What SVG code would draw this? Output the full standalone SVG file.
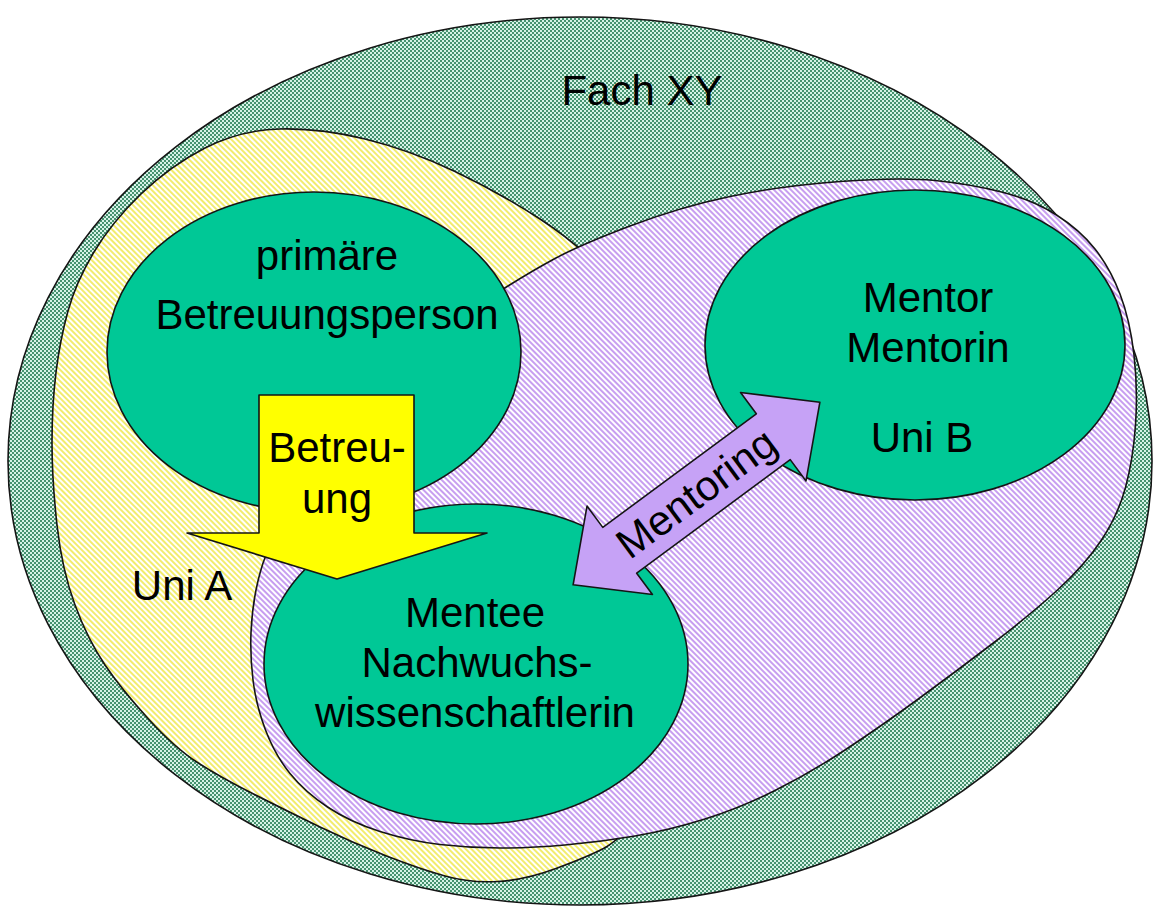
<svg xmlns="http://www.w3.org/2000/svg" width="1155" height="913" viewBox="0 0 1155 913">
<defs>
<pattern id="checker" width="4" height="4" patternUnits="userSpaceOnUse">
<rect width="4" height="4" fill="#d6f3e7"/>
<rect width="2" height="2" fill="#46926f"/>
<rect x="2" y="2" width="2" height="2" fill="#46926f"/>
</pattern>
<pattern id="lilac" width="4" height="4" patternUnits="userSpaceOnUse" patternTransform="rotate(-45)">
<rect width="4" height="4" fill="#ffffff"/>
<rect width="2" height="4" fill="#c79ef0"/>
</pattern>
<pattern id="straw" width="4" height="4" patternUnits="userSpaceOnUse" patternTransform="rotate(-45)">
<rect width="4" height="4" fill="#ffffff"/>
<rect width="2" height="4" fill="#f2ec6e"/>
</pattern>
</defs>
<style>
.ln{stroke:#151515;stroke-width:1.6;stroke-linejoin:round}
.node{fill:#00c896}
.t{font-family:"Liberation Sans",Arial,sans-serif;font-size:42px;fill:#000;text-anchor:middle}
</style>
<rect width="1155" height="913" fill="#ffffff"/>

<g id="fach">
<ellipse class="ln" cx="580" cy="461" rx="572" ry="444" fill="url(#checker)"/>
<text class="t" x="642" y="105">Fach XY</text>
</g>

<g id="uniA">
<path class="ln" fill="url(#straw)" d="M685,645 Q690,520 670,420 Q650,320 615,282.5 Q580,245 540,219 Q500,193 455,171.5 Q410,150 365,139 Q320,128 280,129 Q240,130 205,148 Q170,166 141,194 Q112,222 94,252 Q76,282 68,311 Q60,340 56,372.5 Q52,405 52,442.5 Q52,480 57,525 Q62,570 75,605 Q88,640 105,665 Q122,690 148.5,719 Q175,748 197.5,762.5 Q220,777 253.5,794 Q287,811 320,827 Q353,843 386.5,856 Q420,869 445,876 Q470,883 497.5,881.5 Q525,880 556,868.5 Q587,857 603.5,848.5 Q620,840 650,805 Q680,770 685,645 Z"/>
<text class="t" x="182" y="600">Uni A</text>
</g>

<g id="uniB">
<path class="ln" fill="url(#lilac)" d="M281,525 Q290,510 345,440 Q400,370 435,340 Q470,310 500,291 Q530,272 555,258.5 Q580,245 630,226 Q680,207 730,196.5 Q780,186 840,181.5 Q900,177 935,180.5 Q970,184 1001.5,192 Q1033,200 1056.5,215 Q1080,230 1095,249 Q1110,268 1120,294 Q1130,320 1134,355 Q1138,390 1135.5,425 Q1133,460 1125.5,487.5 Q1118,515 1101.5,540 Q1085,565 1057.5,590 Q1030,615 994,642.5 Q958,670 919,698.5 Q880,727 845,750 Q810,773 775,790.5 Q740,808 705,819 Q670,830 635,836 Q600,842 565,845 Q530,848 500,848 Q470,848 440,844.5 Q410,841 380,831.5 Q350,822 327.5,807 Q305,792 290,773.5 Q275,755 265.5,730 Q256,705 253,680 Q250,655 251,632.5 Q252,610 256,590 Q260,570 266,555 Q272,540 281,525 Z"/>
</g>

<g id="betreuungsperson">
<ellipse class="ln node" cx="314" cy="352" rx="207" ry="160"/>
<text class="t" x="327" y="270">primäre</text>
<text class="t" x="327" y="329">Betreuungsperson</text>
</g>

<g id="mentor">
<ellipse class="ln node" cx="915" cy="345" rx="210" ry="155"/>
<text class="t" x="928" y="312">Mentor</text>
<text class="t" x="928" y="362">Mentorin</text>
<text class="t" x="922" y="452">Uni B</text>
</g>

<g id="mentee">
<ellipse class="ln node" cx="476" cy="664" rx="212" ry="160"/>
<text class="t" x="475" y="627">Mentee</text>
<text class="t" x="477" y="677">Nachwuchs-</text>
<text class="t" x="475" y="727">wissenschaftlerin</text>
</g>

<g id="connectors">
<g id="betreuung">
<polygon class="ln" fill="#ffff00" points="259,395 414,395 414,533 487,533 337,579 187,533 259,533"/>
<text class="t" x="337" y="462">Betreu-</text>
<text class="t" x="337" y="513">ung</text>
</g>
<g id="mentoring" transform="translate(696.5,493.5) rotate(-36.5)">
<polygon class="ln" fill="#c6a2f6" points="153.5,0 95.5,-55 95.5,-28.5 -95.5,-28.5 -95.5,-55 -153.5,0 -95.5,55 -95.5,28.5 95.5,28.5 95.5,55"/>
<text class="t" x="0" y="14">Mentoring</text>
</g>
</g>
</svg>
